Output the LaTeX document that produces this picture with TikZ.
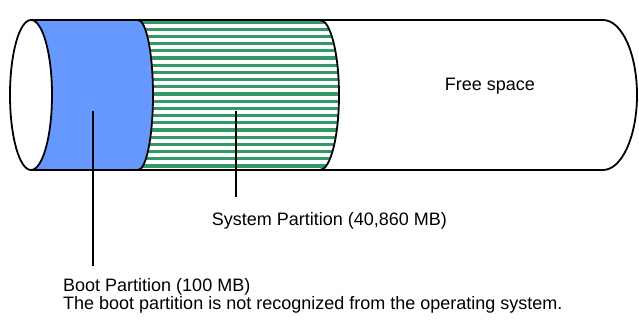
\documentclass[tikz,border=0pt]{standalone}
\usepackage{fontspec}
\setmainfont{Liberation Sans}
\definecolor{bootblue}{RGB}{102,153,255}
\definecolor{sysgreen}{RGB}{51,153,102}
\tikzset{
  outline/.style={draw=black, line width=1.8pt},
  stripe/.style={draw=sysgreen, line width=3.2pt},
  pointer/.style={draw=black, line width=1.8pt},
  lbl/.style={inner sep=0pt, font=\fontsize{18}{21}\selectfont, text=black}
}
\begin{document}
\begin{tikzpicture}[x=1pt,y=1pt]
\useasboundingbox (0,0) rectangle (639,320);
% boot partition fill
\fill[bootblue] (31,300) -- (138,300)
  arc[start angle=90,end angle=-90,x radius=15pt,y radius=75pt] -- (31,150)
  arc[start angle=-90,end angle=90,x radius=21pt,y radius=75pt] -- cycle;
% system partition stripes
\begin{scope}
  \clip (138,300) -- (320,300)
    arc[start angle=90,end angle=-90,x radius=19pt,y radius=75pt] -- (138,150)
    arc[start angle=-90,end angle=90,x radius=15pt,y radius=75pt] -- cycle;
  \foreach \k in {0,...,20} \draw[stripe] (130,298-7.2*\k) -- (345,298-7.2*\k);
\end{scope}
% outlines
\draw[outline] (31,300) -- (603,300)
  arc[start angle=90,end angle=-90,x radius=34pt,y radius=75pt] -- (31,150);
\draw[outline] (138,300) arc[start angle=90,end angle=-90,x radius=15pt,y radius=75pt];
\draw[outline] (320,300) arc[start angle=90,end angle=-90,x radius=19pt,y radius=75pt];
\draw[outline, fill=white] (31,225) ellipse[x radius=21pt, y radius=75pt];
% labels
\node[lbl, anchor=base] (free) at (490,229) {Free space};
\node[lbl, anchor=base west] (sys) at (211.7,94) {System Partition (40,860 MB)};
\node[lbl, anchor=base west] (boot1) at (63,28) {Boot Partition (100 MB)};
\node[lbl, anchor=base west] (boot2) at (63,10) {The boot partition is not recognized from the operating system.};
% pointers
\coordinate (bootpt) at (92.7,209.3);
\coordinate (bootend) at (92.7,54);
\coordinate (syspt) at (236,209.3);
\coordinate (sysend) at (236,123.3);
\draw[pointer] (bootpt) -- (bootend);
\draw[pointer] (syspt) -- (sysend);
\end{tikzpicture}
\end{document}
